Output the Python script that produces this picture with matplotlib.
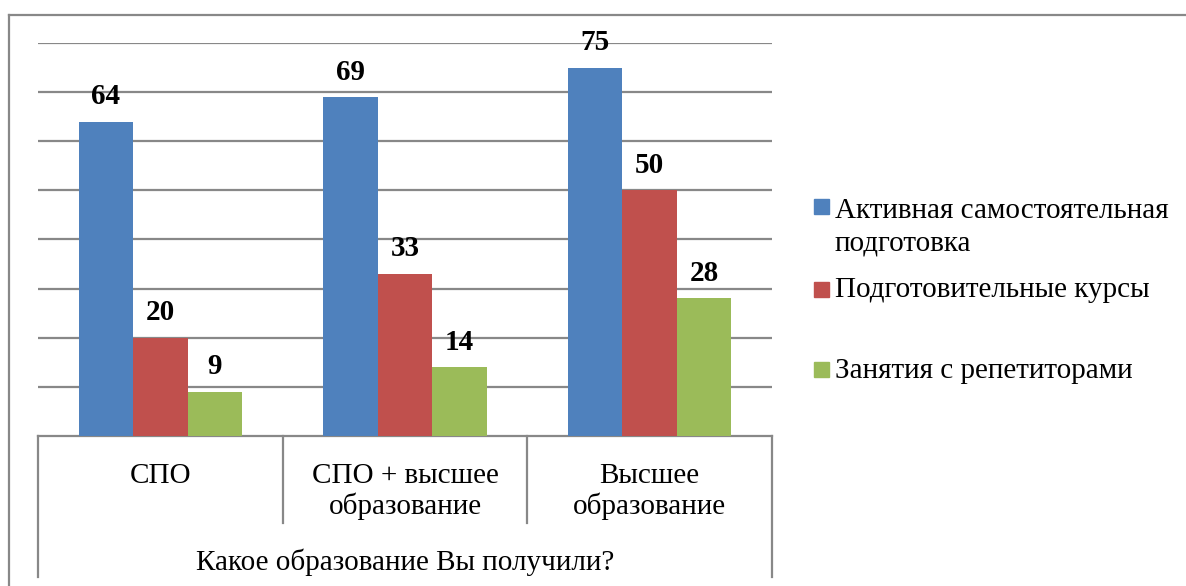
import matplotlib
matplotlib.use("Agg")
import matplotlib.pyplot as plt
from matplotlib.patches import Rectangle
import numpy as np

categories = ["СПО", "СПО + высшее\nобразование", "Высшее\nобразование"]
series_names = ["Активная самостоятельная\nподготовка", "Подготовительные курсы", "Занятия с репетиторами"]
active = [64, 69, 75]
courses = [20, 33, 50]
tutors = [9, 14, 28]
axis_title = "Какое образование Вы получили?"
colors = ["#4F81BD", "#C0504D", "#9BBB59"]

plt.rcParams['font.family'] = ['Liberation Serif', 'DejaVu Serif']

W, H = 1186, 586
fig = plt.figure(figsize=(W / 100, H / 100), dpi=100)

def fx(px):
    return px / W

def fy(py):
    return 1 - py / H

left, right, top, bottom = 38, 772, 43, 436
ax = fig.add_axes([fx(left), fy(bottom), fx(right - left), (bottom - top) / H])

values = [active, courses, tutors]
x = np.arange(len(categories))
bw = 1 / 4.5
for i, (vals, col) in enumerate(zip(values, colors)):
    xs = x + (i - 1) * bw
    ax.bar(xs, vals, width=bw, color=col, zorder=3)
    for xi, v in zip(xs, vals):
        ax.annotate(str(v), (xi, v), xytext=(0, 12.6), textcoords="offset points",
                    ha="center", va="baseline", fontsize=21, fontweight="bold",
                    zorder=4)

ax.set_xlim(-0.5, len(categories) - 0.5)
ax.set_ylim(0, 80)
ax.set_yticks(np.arange(10, 81, 10))
ax.yaxis.grid(True, color="#888888", linewidth=1.6, zorder=0)
ax.tick_params(left=False, bottom=False, labelleft=False, labelbottom=False)
for s in ["left", "right", "top"]:
    ax.spines[s].set_visible(False)
ax.spines["bottom"].set_color("#888888")
ax.spines["bottom"].set_linewidth(1.6)

line_kw = dict(color="#888888", linewidth=1.6)
# category table lines
for xb in [0, 1 / 3, 2 / 3, 1]:
    xp = left + xb * (right - left)
    yend = 577 if xb in (0, 1) else 523
    fig.add_artist(plt.Line2D([fx(xp), fx(xp)], [fy(bottom), fy(yend)], **line_kw))

FS = 21
for i, c in enumerate(categories):
    cx = left + (i + 0.5) * (right - left) / 3
    for j, line in enumerate(c.split("\n")):
        fig.text(fx(cx), fy(483 + 31 * j), line, ha="center", va="baseline",
                 fontsize=FS)

fig.text(fx((left + right) / 2), fy(570), axis_title, ha="center", va="baseline",
         fontsize=FS)

# outer border
fig.add_artist(plt.Line2D([fx(8.5), fx(1190)], [fy(15), fy(15)], **line_kw))
fig.add_artist(plt.Line2D([fx(8.5), fx(8.5)], [fy(15), fy(590)], **line_kw))

# legend
legend_rows = [(207, 218, 0), (289, 297, 1), (369, 378, 2)]
for ysq, ybase, i in legend_rows:
    fig.add_artist(Rectangle((fx(814), fy(ysq + 7.5)), fx(15), 15 / H,
                             color=colors[i], transform=fig.transFigure))
    for j, line in enumerate(series_names[i].split("\n")):
        fig.text(fx(835), fy(ybase + 32 * j), line, ha="left", va="baseline",
                 fontsize=FS)

fig.savefig("out.png", dpi=100)
